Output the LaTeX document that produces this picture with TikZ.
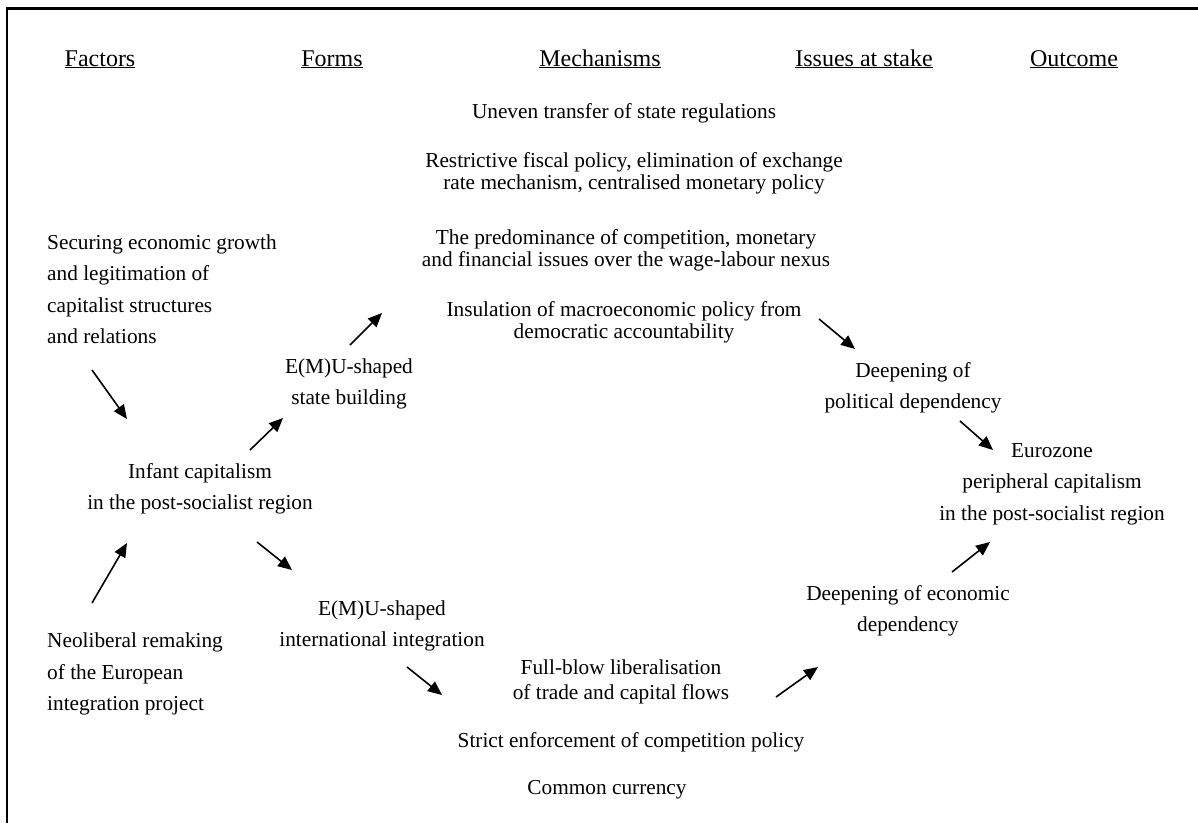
\documentclass[tikz,border=0pt]{standalone}
\usepackage{fontspec}
\setmainfont{Liberation Serif}
\usepackage{tikz}
\usetikzlibrary{arrows.meta,positioning,calc}

\begin{document}
\begin{tikzpicture}[x=1pt,y=-1pt,
		every node/.style={inner sep=0pt,font=\fontsize{21.3}{22}\selectfont},
		head/.style={anchor=base,font=\fontsize{24}{26}\selectfont},
		form/.style={align=center,font=\fontsize{21.3}{31.5}\selectfont},
		fac/.style={align=left,anchor=west,font=\fontsize{21.3}{31.5}\selectfont},
		mech/.style={align=center},
		arr/.style={-{Triangle[length=14pt,width=12pt]},line width=1.6pt}]
		\useasboundingbox (0,0) rectangle (1198,823);
		\draw[line width=2.2pt] (7,823) -- (7,8.5) -- (1198,8.5);

		% column heads
		\node[head] (hfac) at (100,66) {\underline{Factors}};
		\node[head] (hform) at (332,66) {\underline{Forms}};
		\node[head] (hmech) at (600,66) {\underline{Mechanisms}};
		\node[head] (hiss) at (864,66) {\underline{Issues at stake}};
		\node[head] (hout) at (1074,66) {\underline{Outcome}};

		% factors
		\node[fac] (sec) at (47,289) {Securing economic growth\\and legitimation of\\capitalist structures\\and relations};
		\node[fac] (neo) at (47,674) {Neoliberal remaking\\of the European\\integration project};

		% forms
		\node[form] (inf) at (200,489) {Infant capitalism\\in the post-socialist region};
		\node[form] (stb) at (349,384) {E(M)U-shaped\\state building};
		\node[form] (intl) at (382,626) {E(M)U-shaped\\international integration};

		% mechanisms
		\node[mech] (unev) at (624,113) {Uneven transfer of state regulations};
		\node[mech] (restr) at (634,173) {Restrictive fiscal policy, elimination of exchange\\rate mechanism, centralised monetary policy};
		\node[mech] (pred) at (626,250) {The predominance of competition, monetary\\and financial issues over the wage-labour nexus};
		\node[mech] (insul) at (624,322) {Insulation of macroeconomic policy from\\democratic accountability};
		\node[mech,font=\fontsize{21.3}{25}\selectfont] (full) at (621,682) {Full-blow liberalisation\\of trade and capital flows};
		\node[mech] (strict) at (631,742) {Strict enforcement of competition policy};
		\node[mech] (curr) at (607,790) {Common currency};

		% issues at stake and outcome
		\node[form] (pol) at (913,388) {Deepening of\\political dependency};
		\node[form] (eco) at (908,611) {Deepening of economic\\dependency};
		\node[form] (euro) at (1052,484) {Eurozone\\peripheral capitalism\\in the post-socialist region};

		% arrow ends
		\coordinate (sec-o) at (92,370);   \coordinate (inf-a) at (127,419);
		\coordinate (neo-o) at (92,603);   \coordinate (inf-b) at (127,543);
		\coordinate (inf-c) at (250,450);  \coordinate (stb-i) at (283,418);
		\coordinate (inf-d) at (257,542);  \coordinate (intl-i) at (292,570);
		\coordinate (stb-o) at (350,345);  \coordinate (mech-i) at (382,313);
		\coordinate (intl-o) at (407,667); \coordinate (full-i) at (442,695);
		\coordinate (insul-o) at (819,319); \coordinate (pol-i) at (855,349);
		\coordinate (full-o) at (776,697); \coordinate (eco-i) at (818,667);
		\coordinate (pol-o) at (960,421);  \coordinate (euro-a) at (993,450);
		\coordinate (eco-o) at (952,572);  \coordinate (euro-b) at (990,542);

		\draw[arr] (sec-o) -- (inf-a);
		\draw[arr] (neo-o) -- (inf-b);
		\draw[arr] (inf-c) -- (stb-i);
		\draw[arr] (inf-d) -- (intl-i);
		\draw[arr] (stb-o) -- (mech-i);
		\draw[arr] (intl-o) -- (full-i);
		\draw[arr] (insul-o) -- (pol-i);
		\draw[arr] (full-o) -- (eco-i);
		\draw[arr] (pol-o) -- (euro-a);
		\draw[arr] (eco-o) -- (euro-b);
\end{tikzpicture}
\end{document}
